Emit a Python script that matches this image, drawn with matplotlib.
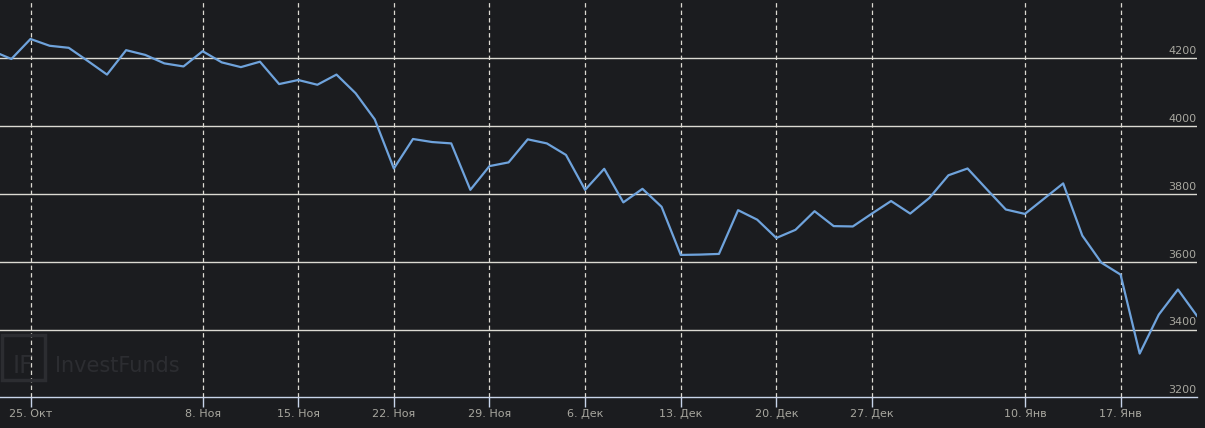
import matplotlib
matplotlib.use("Agg")
import matplotlib.pyplot as plt
import matplotlib.transforms as mtransforms
from matplotlib.patches import Rectangle

# trading days, Oct 21 .. Jan 21
dates = ["21.10", "22.10", "25.10", "26.10", "27.10", "28.10", "29.10",
         "01.11", "02.11", "03.11", "05.11", "08.11", "09.11", "10.11",
         "11.11", "12.11", "15.11", "16.11", "17.11", "18.11", "19.11",
         "22.11", "23.11", "24.11", "25.11", "26.11", "29.11", "30.11",
         "01.12", "02.12", "03.12", "06.12", "07.12", "08.12", "09.12",
         "10.12", "13.12", "14.12", "15.12", "16.12", "17.12", "20.12",
         "21.12", "22.12", "23.12", "24.12", "27.12", "28.12", "29.12",
         "30.12", "03.01", "04.01", "05.01", "06.01", "10.01", "11.01",
         "12.01", "13.01", "14.01", "17.01", "18.01", "19.01", "20.01",
         "21.01"]
values = [4222, 4198, 4257, 4237, 4231, 4192, 4152,
          4224, 4210, 4185, 4176, 4221, 4188, 4174,
          4190, 4124, 4136, 4122, 4152, 4097, 4020,
          3875, 3962, 3953, 3949, 3812, 3882, 3893,
          3961, 3949, 3915, 3812, 3874, 3775, 3815,
          3762, 3620, 3621, 3623, 3752, 3724, 3670,
          3694, 3749, 3705, 3704, 3742, 3779, 3742,
          3788, 3855, 3875, 3814, 3754, 3741, 3786,
          3831, 3677, 3597, 3562, 3329, 3444, 3518,
          3440]

tick_dates = ["25.10", "08.11", "15.11", "22.11", "29.11", "06.12",
              "13.12", "20.12", "27.12", "10.01", "17.01"]
tick_labels = ["25. Окт", "8. Ноя", "15. Ноя", "22. Ноя", "29. Ноя", "6. Дек",
               "13. Дек", "20. Дек", "27. Дек", "10. Янв", "17. Янв"]
y_ticks = [3200, 3400, 3600, 3800, 4000, 4200]

bg = "#1b1c1f"
grid_col = "#dcdad2"
line_col = "#6fa3dc"
label_col = "#a8a79f"
axis_col = "#c8d4ea"

fig = plt.figure(figsize=(12.05, 4.28), dpi=100, facecolor=bg)
ax = fig.add_axes([0, 0.0717, 0.9934, 0.9283])
ax.set_facecolor(bg)

x = list(range(len(dates)))
tick_pos = [dates.index(d) for d in tick_dates]

# horizontal grid
for v in y_ticks[1:]:
    ax.axhline(v, color=grid_col, lw=1.0, zorder=1)
# vertical dashed grid
for p in tick_pos:
    ax.axvline(p, color=grid_col, lw=0.9, dashes=(3.5, 2.5), zorder=1)

ax.plot(x, values, color=line_col, lw=1.6, zorder=3, solid_joinstyle="round")

ax.set_xlim(0.405, len(dates) - 1)
ax.set_ylim(3200, 4372)

for s in ["top", "left", "right"]:
    ax.spines[s].set_visible(False)
ax.spines["bottom"].set_color(axis_col)
ax.spines["bottom"].set_linewidth(1.0)

ax.set_xticks(tick_pos)
ax.set_xticklabels(tick_labels)
ax.tick_params(axis="x", colors=axis_col, length=7, width=1, labelcolor=label_col,
               labelsize=8, pad=1.5)
ax.set_yticks([])

trans = mtransforms.blended_transform_factory(ax.transAxes, ax.transData)
for v in y_ticks:
    ax.text(0.9995, v + 6, str(v), transform=trans, ha="right", va="bottom",
            color=label_col, fontsize=8, zorder=4)

# watermark
wm = "#2c2d31"
fig.text(0.046, 0.145, "InvestFunds", color=wm, fontsize=15,
         va="center", ha="left")
fig.text(0.019, 0.145, "IF", color=wm, fontsize=17,
         va="center", ha="center")
fig.patches.append(Rectangle((0.002, 0.113), 0.035, 0.104, transform=fig.transFigure,
                             fill=False, edgecolor=wm, lw=2.5))

fig.savefig("out.png", dpi=100, facecolor=bg)
